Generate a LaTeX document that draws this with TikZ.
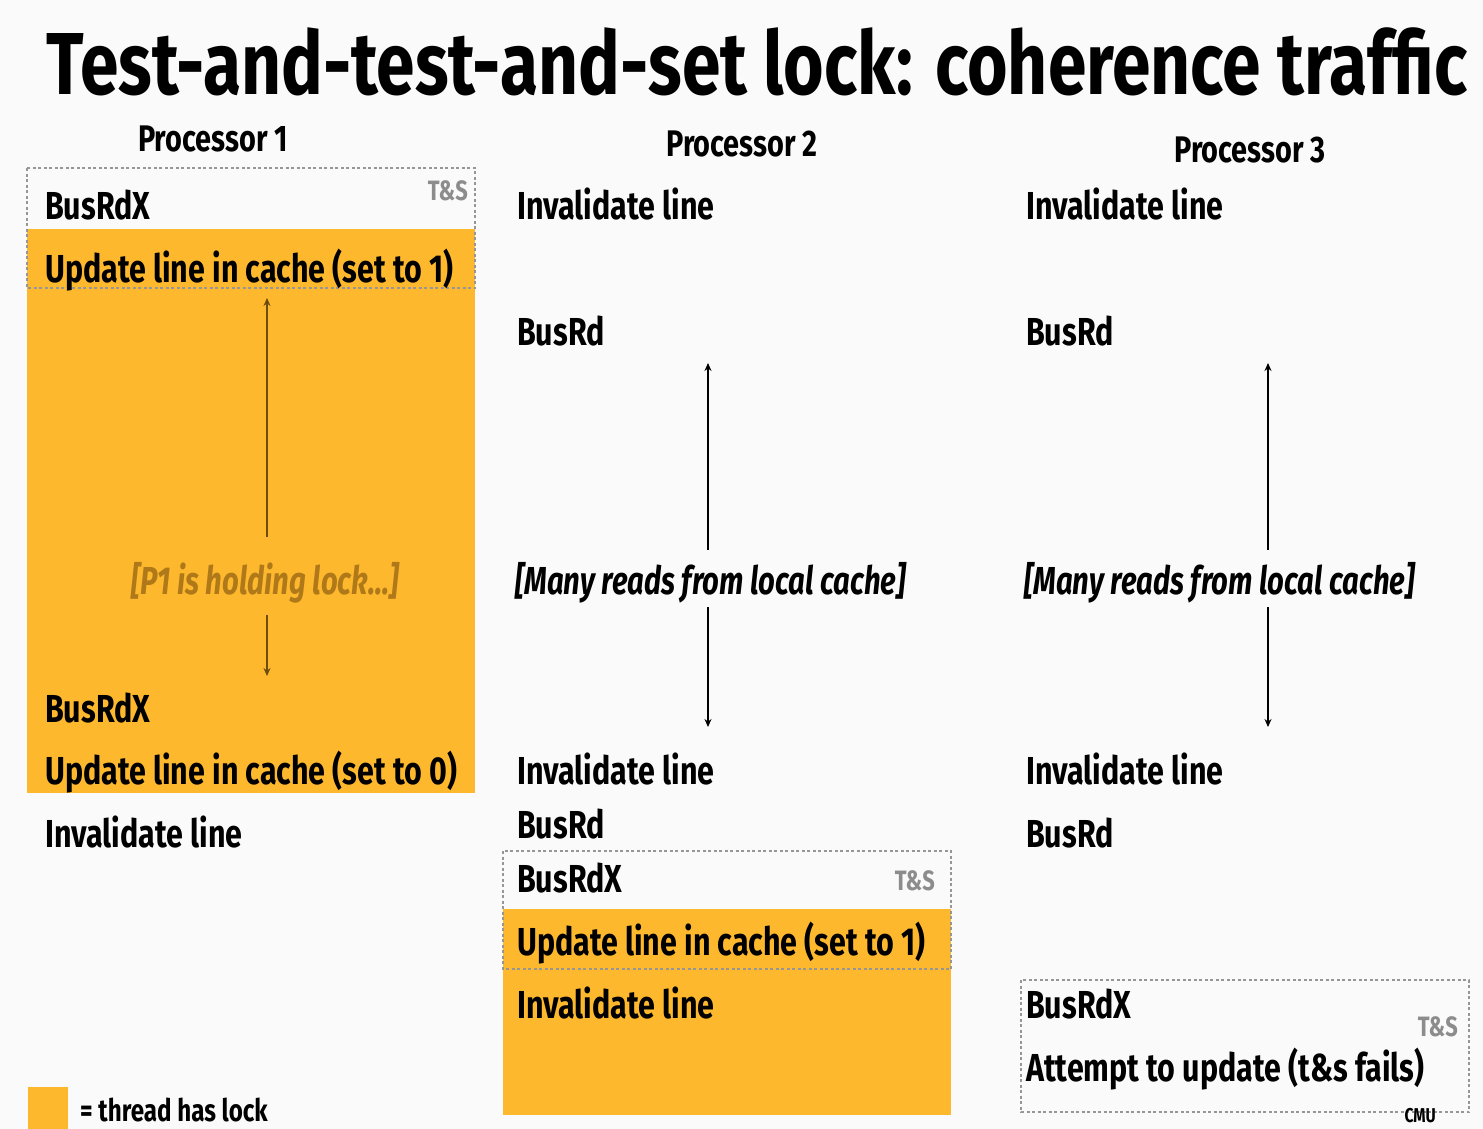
\documentclass[tikz,border=0pt]{standalone}
\usepackage{fontspec}
\setmainfont{Fira Sans}[FakeStretch=0.78]
\newfontfamily\italfam{Fira Sans}[FakeStretch=0.75]
\newfontfamily\titlefam{Fira Sans}[FakeStretch=0.79]
\usetikzlibrary{arrows.meta}
\definecolor{lockorange}{RGB}{253,184,45}
\definecolor{bgc}{RGB}{250,250,250}
\definecolor{tsgray}{RGB}{140,140,140}
\definecolor{boxgray}{RGB}{150,150,150}
\definecolor{brownarrow}{RGB}{110,75,15}
\definecolor{browntext}{RGB}{175,120,25}
\tikzset{
  lbl/.style={anchor=base west, inner sep=0pt, font=\fontsize{39}{44}\selectfont\bfseries},
  ital/.style={anchor=base, inner sep=0pt, font=\fontsize{39}{44}\selectfont\italfam\bfseries\itshape},
  head/.style={anchor=base, inner sep=0pt, font=\fontsize{37}{42}\selectfont\bfseries},
  tands/.style={anchor=base east, inner sep=0pt, text=tsgray, font=\fontsize{28}{32}\selectfont\bfseries},
  tsbox/.style={draw=boxgray, line width=1.5pt, dash pattern=on 3pt off 2.5pt},
  varrow/.style={line width=2.5pt, -{Stealth[length=8pt,width=7pt]}},
}
\begin{document}
\begin{tikzpicture}[x=1pt,y=-1pt]
\fill[bgc] (0,0) rectangle (1483,1129);
\useasboundingbox (0,0) rectangle (1483,1129);
% title
\node[anchor=base, inner sep=0pt, font=\fontsize{88}{96}\selectfont\titlefam\bfseries] (title) at (757,95) {Test-and-test-and-set lock: coherence traffic};
% headings
\node[head] (h1) at (213,152) {Processor 1};
\node[head] (h2) at (742,157) {Processor 2};
\node[head] (h3) at (1250,162) {Processor 3};
% orange regions
\fill[lockorange] (27,229) rectangle (475,793);
\fill[lockorange] (503,909) rectangle (951,1115);
% dashed boxes
\draw[tsbox] (27,168) rectangle (475,288);
\draw[tsbox] (503,851) rectangle (951,969);
\draw[tsbox] (1021,980) rectangle (1469,1112);
% P1
\node[lbl] (p1a) at (45,219) {BusRdX};
\node[tands] (ts1) at (468,200) {T\&S};
\node[lbl] (p1b) at (45,282) {Update line in cache (set to 1)};
\node[ital, text=browntext] (p1hold) at (265,594) {[P1 is holding lock...]};
\node[lbl] (p1c) at (45,722) {BusRdX};
\node[lbl] (p1d) at (45,784) {Update line in cache (set to 0)};
\node[lbl] (p1e) at (45,847) {Invalidate line};
\coordinate (p1up) at (267,298);
\coordinate (p1dn) at (267,676);
\draw[varrow, brownarrow] (p1hold.north -| p1up) ++(0,-25) -- (p1up);
\draw[varrow, brownarrow] (p1hold.south -| p1dn) ++(0,12) -- (p1dn);
% P2
\node[lbl] (p2a) at (517,219) {Invalidate line};
\node[lbl] (p2b) at (517,345) {BusRd};
\node[ital, anchor=base west] (p2m) at (515,594) {[Many reads from local cache]};
\node[lbl] (p2c) at (517,784) {Invalidate line};
\node[lbl] (p2d) at (517,838) {BusRd};
\node[lbl] (p2e) at (517,892) {BusRdX};
\node[tands] (ts2) at (935,890) {T\&S};
\node[lbl] (p2f) at (517,955) {Update line in cache (set to 1)};
\node[lbl] (p2g) at (517,1018) {Invalidate line};
\coordinate (p2up) at (708,363);
\coordinate (p2dn) at (708,727);
\draw[varrow] (708,550) -- (p2up);
\draw[varrow] (708,607) -- (p2dn);
% P3
\node[lbl] (p3a) at (1026,219) {Invalidate line};
\node[lbl] (p3b) at (1026,345) {BusRd};
\node[ital, anchor=base west] (p3m) at (1024,594) {[Many reads from local cache]};
\node[lbl] (p3c) at (1026,784) {Invalidate line};
\node[lbl] (p3d) at (1026,847) {BusRd};
\node[lbl] (p3e) at (1026,1018) {BusRdX};
\node[tands] (ts3) at (1458,1036) {T\&S};
\node[lbl] (p3f) at (1026,1081) {Attempt to update (t\&s fails)};
\coordinate (p3up) at (1268,363);
\coordinate (p3dn) at (1268,727);
\draw[varrow] (1268,550) -- (p3up);
\draw[varrow] (1268,607) -- (p3dn);
% legend
\fill[lockorange] (28,1087) rectangle (68,1129);
\node[anchor=base west, inner sep=0pt, font=\fontsize{31}{35}\selectfont\bfseries] (leg) at (80,1121) {= thread has lock};
\node[anchor=base east, inner sep=0pt, font=\fontsize{20}{24}\selectfont\bfseries] (cmu) at (1436,1122) {CMU};
\end{tikzpicture}
\end{document}
